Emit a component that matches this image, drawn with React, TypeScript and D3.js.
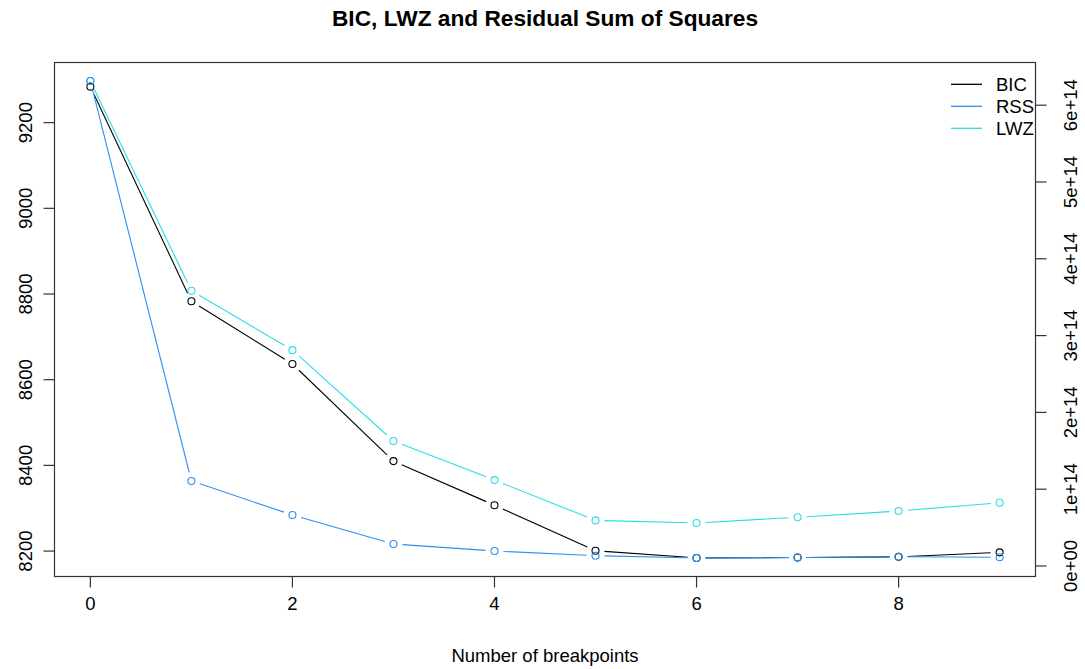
import React from "react";
import * as d3 from "d3";

const breakpoints = [0, 1, 2, 3, 4, 5, 6, 7, 8, 9];
const bicValues = [9284, 8783, 8636.6, 8410, 8307, 8200.7, 8184, 8185, 8186.5, 8197];
const lwzValues = [9297, 8807.7, 8669, 8456.8, 8365.7, 8271.6, 8265.4, 8279, 8293.4, 8312.7];
const rssValues = [6.314e14, 1.107e14, 0.664e14, 0.286e14, 0.195e14, 0.134e14, 0.105e14, 0.11e14, 0.12e14, 0.113e14];

const xTicks = [0, 2, 4, 6, 8];
const leftTicks = [8200, 8400, 8600, 8800, 9000, 9200];
const rightTicks = [0, 1e14, 2e14, 3e14, 4e14, 5e14, 6e14];
const rightTickLabels = ["0e+00", "1e+14", "2e+14", "3e+14", "4e+14", "5e+14", "6e+14"];

const legendLabels = ["BIC", "RSS", "LWZ"];

const W = 1085;
const H = 669;
const L = 54, R = 1036, T = 62, B = 577;
const FONT = "'Liberation Sans', Arial, sans-serif";
const FS = 18.5;
const COL_BIC = "#000000";
const COL_RSS = "#2E8FF0";
const COL_LWZ = "#2ADDE8";
const GAP = 9;
const RAD = 3.5;

function ext(vals: number[]): [number, number] {
  const [mn, mx] = d3.extent(vals) as [number, number];
  const d = (mx - mn) * 0.04;
  return [mn - d, mx + d];
}

function gappedSegments(pts: [number, number][]) {
  const segs: { x1: number; y1: number; x2: number; y2: number }[] = [];
  for (let i = 0; i < pts.length - 1; i++) {
    const [ax, ay] = pts[i];
    const [bx, by] = pts[i + 1];
    const len = Math.hypot(bx - ax, by - ay);
    if (len <= 2 * GAP) continue;
    const ux = (bx - ax) / len, uy = (by - ay) / len;
    segs.push({ x1: ax + ux * GAP, y1: ay + uy * GAP, x2: bx - ux * GAP, y2: by - uy * GAP });
  }
  return segs;
}

function Series({ pts, color }: { pts: [number, number][]; color: string }) {
  return (
    <g>
      {gappedSegments(pts).map((s, i) => (
        <line key={i} x1={s.x1} y1={s.y1} x2={s.x2} y2={s.y2} stroke={color} strokeWidth={1.1} />
      ))}
      {pts.map((p, i) => (
        <circle key={"c" + i} cx={p[0]} cy={p[1]} r={RAD} fill="none" stroke={color} strokeWidth={1.1} />
      ))}
    </g>
  );
}

export default function App() {
  const x = d3.scaleLinear().domain(ext(breakpoints)).range([L, R]);
  const yL = d3.scaleLinear().domain(ext([...bicValues, ...lwzValues])).range([B, T]);
  const yR = d3.scaleLinear().domain(ext(rssValues)).range([B, T]);

  const bicPts = breakpoints.map((b, i) => [x(b), yL(bicValues[i])] as [number, number]);
  const lwzPts = breakpoints.map((b, i) => [x(b), yL(lwzValues[i])] as [number, number]);
  const rssPts = breakpoints.map((b, i) => [x(b), yR(rssValues[i])] as [number, number]);

  const legendColors = [COL_BIC, COL_RSS, COL_LWZ];
  const TL = 10.5;

  return (
    <svg width={W} height={H} style={{ position: "absolute", left: 0, top: 0, background: "#fff" }} fontFamily={FONT}>
      <rect x={0} y={0} width={W} height={H} fill="#fff" />
      <text x={(L + R) / 2} y={26} textAnchor="middle" fontSize={22.7} fontWeight="bold" fill="#000">
        BIC, LWZ and Residual Sum of Squares
      </text>

      <Series pts={bicPts} color={COL_BIC} />
      <Series pts={lwzPts} color={COL_LWZ} />
      <Series pts={rssPts} color={COL_RSS} />

      <rect x={L + 0.5} y={T + 0.5} width={R - L - 1} height={B - T - 1} fill="none" stroke="#333" strokeWidth={1.2} />

      {/* x axis */}
      {xTicks.map((t) => (
        <g key={"x" + t}>
          <line x1={x(t)} x2={x(t)} y1={B} y2={B + TL} stroke="#333" strokeWidth={1.2} />
          <text x={x(t)} y={610} textAnchor="middle" fontSize={FS} fill="#000">{t}</text>
        </g>
      ))}
      <text x={(L + R) / 2} y={662} textAnchor="middle" fontSize={FS} fill="#000">Number of breakpoints</text>

      {/* left axis */}
      {leftTicks.map((t) => (
        <g key={"l" + t}>
          <line x1={L - TL} x2={L} y1={yL(t)} y2={yL(t)} stroke="#333" strokeWidth={1.2} />
          <text transform={`translate(32,${yL(t)}) rotate(-90)`} textAnchor="middle" fontSize={FS} fill="#000">{t}</text>
        </g>
      ))}

      {/* right axis */}
      {rightTicks.map((t, i) => (
        <g key={"r" + t}>
          <line x1={R} x2={R + TL} y1={yR(t)} y2={yR(t)} stroke="#333" strokeWidth={1.2} />
          <text transform={`translate(1077,${yR(t)}) rotate(-90)`} textAnchor="middle" fontSize={FS} fill="#000">{rightTickLabels[i]}</text>
        </g>
      ))}

      {/* legend */}
      {legendLabels.map((lab, i) => {
        const yy = 84.3 + i * 22;
        return (
          <g key={lab}>
            <line x1={951} x2={982} y1={yy} y2={yy} stroke={legendColors[i]} strokeWidth={1.3} />
            <text x={996} y={yy} dominantBaseline="central" fontSize={FS} fill="#000">{lab}</text>
          </g>
        );
      })}
    </svg>
  );
}
